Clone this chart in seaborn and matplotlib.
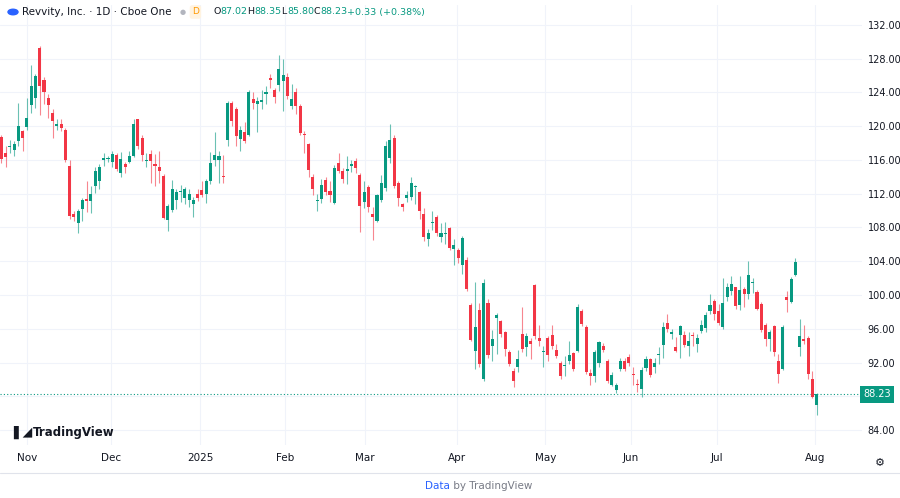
import numpy as np
import pandas as pd
import seaborn as sns
import matplotlib.pyplot as plt
from matplotlib.patches import Circle

# candle data, oldest first
opens = [118.7, 116.8, 117.5, 117.2, 118.2, 119.4, 119.9, 122.5, 123.3, 129.2,
         125.5, 123.3, 121.6, 120.0, 120.2, 119.6, 115.3, 109.6, 108.5, 110.2,
         111.4, 111.1, 112.9, 113.5, 116.0, 116.1, 115.8, 116.6, 114.5, 115.5,
         115.8, 116.5, 120.8, 118.6, 115.9, 116.7, 115.5, 115.2, 114.1, 108.9,
         110.1, 111.3, 112.2, 111.5, 111.2, 110.8, 112.0, 112.4, 112.0, 113.5,
         116.0, 116.0, 114.1, 118.4, 122.8, 122.0, 118.5, 119.3, 118.9, 123.2,
         122.6, 122.9, 123.8, 125.7, 124.3, 124.9, 125.4, 125.8, 122.4, 124.1,
         122.4, 119.0, 117.9, 114.0, 111.1, 111.4, 113.6, 112.3, 110.9, 115.6,
         114.7, 114.7, 115.3, 115.9, 114.2, 111.0, 112.8, 109.6, 108.8, 111.3,
         112.7, 116.2, 118.6, 113.3, 110.8, 111.5, 111.6, 112.8, 112.2, 109.6,
         106.6, 108.5, 109.3, 106.9, 107.2, 107.9, 105.5, 105.3, 103.6, 104.1,
         98.8, 93.4, 98.2, 90.0, 99.0, 94.0, 97.3, 96.9, 95.6, 93.3,
         91.0, 91.5, 95.4, 93.8, 94.5, 101.2, 94.9, 93.3, 94.9, 95.3,
         93.5, 91.9, 91.6, 92.2, 93.1, 93.4, 98.1, 96.2, 90.8, 90.4,
         91.9, 94.0, 92.2, 89.4, 88.7, 91.3, 92.2, 92.7, 90.6, 89.5,
         88.9, 91.4, 92.4, 91.5, 92.9, 94.1, 96.7, 95.4, 93.9, 95.3,
         95.3, 94.0, 95.2, 94.2, 95.8, 96.1, 98.1, 99.3, 98.1, 96.2,
         99.8, 100.5, 100.9, 98.8, 100.7, 100.1, 101.4, 100.4, 98.9, 96.5,
         94.8, 96.3, 92.2, 91.2, 99.8, 99.2, 102.4, 93.9, 94.8, 94.9,
         90.0, 87.02]
closes = [116.1, 116.4, 117.7, 117.9, 120.0, 118.6, 121.0, 124.8, 126.0, 124.8,
          124.0, 122.5, 120.6, 120.3, 119.8, 116.0, 109.4, 109.3, 109.9, 111.3,
          111.1, 112.0, 114.7, 115.2, 116.2, 116.2, 116.7, 114.9, 116.1, 115.2,
          116.5, 120.3, 117.6, 116.6, 116.0, 115.9, 115.3, 114.7, 109.1, 110.6,
          112.6, 112.2, 112.3, 112.5, 112.0, 111.3, 111.5, 111.9, 113.5, 115.6,
          116.6, 116.5, 114.0, 122.8, 120.6, 118.8, 119.5, 118.2, 124.0, 122.8,
          123.0, 123.1, 124.1, 125.5, 123.5, 126.8, 126.1, 123.6, 123.2, 122.4,
          119.2, 118.9, 114.8, 112.6, 111.3, 113.0, 112.2, 111.8, 115.0, 114.7,
          113.8, 114.9, 115.5, 115.0, 110.5, 112.2, 110.4, 109.3, 111.8, 113.3,
          117.6, 118.4, 112.9, 111.5, 110.4, 111.9, 113.3, 112.8, 109.9, 106.9,
          107.3, 108.6, 107.4, 107.4, 107.3, 105.6, 105.9, 104.4, 106.7, 100.7,
          94.7, 96.2, 91.8, 101.4, 92.9, 94.8, 97.6, 95.4, 93.6, 91.8,
          89.8, 92.4, 93.6, 95.2, 94.2, 95.1, 94.6, 93.4, 92.9, 94.0,
          92.8, 90.4, 91.7, 92.9, 91.2, 98.6, 96.6, 90.9, 90.4, 93.3,
          94.4, 93.5, 89.8, 90.5, 89.3, 92.2, 91.3, 91.9, 90.5, 89.3,
          91.1, 92.4, 90.5, 92.0, 92.95, 96.2, 96.0, 95.6, 93.4, 96.3,
          94.1, 94.5, 95.1, 94.9, 96.5, 97.6, 98.8, 97.8, 96.7, 99.1,
          100.9, 101.3, 98.7, 100.6, 100.1, 102.4, 101.6, 98.4, 95.9, 94.8,
          95.6, 93.3, 90.7, 96.2, 99.4, 101.9, 103.9, 95.1, 94.5, 90.7,
          87.9, 88.23]
highs = [119.0, 117.6, 118.4, 118.2, 122.7, 119.6, 123.3, 127.2, 126.2, 129.5,
         125.8, 123.8, 122.0, 120.9, 120.8, 119.8, 116.0, 110.0, 110.2, 111.5,
         113.5, 112.9, 115.2, 115.5, 116.8, 116.5, 117.0, 116.8, 116.9, 115.8,
         117.0, 120.8, 120.9, 119.0, 116.8, 117.2, 116.7, 117.0, 114.3, 110.8,
         113.6, 112.6, 113.0, 112.8, 112.5, 111.6, 112.6, 113.5, 113.8, 116.9,
         119.3, 117.0, 116.6, 123.0, 123.0, 122.3, 120.0, 120.5, 124.3, 124.0,
         123.4, 124.3, 124.7, 126.2, 124.5, 128.4, 128.0, 126.3, 125.0, 124.5,
         122.6, 119.4, 118.0, 114.3, 112.0, 113.8, 114.0, 113.5, 115.4, 116.8,
         115.0, 116.5, 116.0, 116.2, 114.4, 113.5, 113.0, 110.4, 112.0, 114.2,
         118.3, 120.3, 119.0, 113.5, 110.9, 112.3, 114.0, 113.0, 112.3, 110.3,
         107.8, 110.0, 109.5, 108.5, 108.7, 108.0, 106.6, 105.6, 107.0, 104.5,
         99.0, 101.6, 99.0, 101.9, 99.5, 95.9, 97.9, 97.1, 95.8, 93.5,
         91.4, 93.5, 98.6, 95.5, 94.9, 101.3, 96.5, 94.0, 95.2, 96.4,
         94.2, 92.2, 92.8, 94.5, 93.3, 98.9, 98.3, 96.5, 91.2, 93.5,
         94.6, 94.3, 92.4, 90.9, 89.6, 92.6, 92.5, 93.0, 91.5, 90.0,
         91.5, 92.8, 92.6, 92.6, 93.8, 96.8, 97.8, 96.0, 95.0, 96.5,
         95.8, 95.6, 95.6, 95.4, 97.0, 98.0, 100.1, 99.5, 98.9, 102.0,
         101.4, 102.3, 101.0, 102.2, 101.0, 104.0, 102.0, 100.6, 99.2, 96.7,
         95.9, 96.4, 93.0, 96.5, 100.5, 102.1, 104.4, 97.2, 96.5, 95.1,
         91.0, 88.35]
lows = [115.6, 115.2, 116.8, 116.5, 117.6, 117.0, 119.5, 121.6, 122.2, 121.3,
        122.6, 121.0, 118.6, 119.5, 119.4, 115.8, 109.0, 108.8, 107.3, 108.8,
        109.8, 109.7, 112.1, 112.5, 115.3, 115.8, 115.2, 114.7, 114.0, 114.5,
        115.6, 116.3, 117.3, 115.9, 115.2, 113.3, 112.9, 113.3, 109.0, 107.6,
        109.8, 110.2, 111.0, 110.8, 110.4, 109.3, 111.1, 111.6, 110.9, 113.2,
        115.3, 113.3, 113.3, 117.6, 120.0, 117.6, 117.0, 118.0, 118.8, 122.0,
        119.3, 122.0, 122.6, 124.5, 122.8, 124.2, 121.8, 123.2, 122.0, 121.5,
        119.0, 116.8, 114.0, 111.8, 110.0, 110.9, 111.8, 111.0, 110.8, 114.4,
        113.3, 113.1, 114.6, 114.5, 107.5, 110.3, 109.8, 106.5, 108.7, 111.0,
        112.3, 115.6, 112.7, 110.6, 109.9, 111.0, 111.2, 110.8, 109.0, 106.4,
        105.8, 107.7, 107.0, 106.3, 106.0, 105.3, 103.5, 103.8, 102.5, 100.5,
        94.5, 91.3, 91.5, 89.8, 92.6, 92.2, 93.0, 95.0, 92.8, 91.6,
        89.1, 90.9, 93.3, 92.8, 92.4, 94.8, 94.0, 91.5, 92.2, 93.6,
        92.5, 90.0, 90.4, 91.8, 91.0, 93.2, 96.3, 90.7, 89.4, 89.7,
        91.5, 93.2, 89.6, 89.2, 88.4, 91.0, 91.0, 91.6, 89.4, 88.5,
        87.9, 91.0, 90.3, 90.8, 91.8, 92.5, 95.6, 94.8, 93.2, 92.6,
        93.8, 92.8, 94.0, 93.3, 95.5, 95.6, 97.8, 97.0, 96.5, 96.0,
        99.3, 100.0, 98.4, 98.2, 98.6, 99.5, 100.3, 98.2, 95.6, 94.0,
        93.4, 92.8, 89.6, 91.1, 98.0, 99.0, 102.2, 92.8, 94.2, 90.0,
        87.8, 85.8]

month_labels = ["Nov", "Dec", "2025", "Feb", "Mar", "Apr", "May", "Jun", "Jul", "Aug"]
month_pos = [6, 25.8, 46.6, 66.5, 85.2, 106.8, 127.4, 147.5, 167.7, 190.6]
price_ticks = [84, 88, 92, 96, 100, 104, 108, 112, 116, 120, 124, 128, 132]
last_price = 88.23

df = pd.DataFrame({"open": opens, "high": highs, "low": lows, "close": closes})
df["idx"] = np.arange(len(df))
df["up"] = df["close"] >= df["open"]

GREEN = "#089981"
RED = "#f23645"
GRID = "#f0f3fa"
TXT = "#131722"

sns.set_style("white")
fig = plt.figure(figsize=(9, 4.98), dpi=100)
ax = fig.add_axes([0, 53 / 498, 862 / 900, 1 - 53 / 498 - 5 / 498])

for t in price_ticks:
    ax.axhline(t, color=GRID, lw=0.8, zorder=0)
for m in month_pos:
    ax.axvline(m, color=GRID, lw=0.8, zorder=0)

colors = np.where(df["up"], GREEN, RED)
ax.vlines(df["idx"], df["low"], df["high"], colors=colors, lw=0.8, alpha=0.6, zorder=2)
body_lo = np.minimum(df["open"], df["close"])
body_h = np.maximum(np.abs(df["close"] - df["open"]), 0.12)
ax.bar(df["idx"], body_h, bottom=body_lo, width=0.72, color=colors, lw=0, zorder=3)

ax.axhline(last_price, color=GREEN, lw=0.8, ls=(0, (1, 2)), zorder=1)

ax.set_xlim(-0.3, 201.6)
ax.set_ylim(82.24, 134.35)
ax.yaxis.tick_right()
ax.set_yticks(price_ticks)
# the 88 label sits under the last-price tag
ax.set_yticklabels(["" if t == 88 else f"{t:.2f}" for t in price_ticks])
ax.set_xticks(month_pos)
ax.set_xticklabels(month_labels)
ax.tick_params(axis="x", length=0, labelsize=7.5, colors=TXT, pad=6)
ax.tick_params(axis="y", length=0, labelsize=7, colors=TXT, pad=4)
for s in ax.spines.values():
    s.set_visible(False)

# last price tag
ax.text(877 / 862, last_price, f"{last_price:.2f}", transform=ax.get_yaxis_transform(),
        ha="center", va="center", fontsize=7, color="white", zorder=5,
        bbox=dict(boxstyle="square,pad=0.35", fc=GREEN, ec="none"))

# header
y_head = 1 - 12 / 498
fig.patches.append(Circle((13 / 900, y_head), 5 / 900, transform=fig.transFigure,
                          color="#2962ff"))
fig.text(22 / 900, y_head, "Revvity, Inc. · 1D · Cboe One", fontsize=7.5,
         color=TXT, va="center")
fig.text(180 / 900, y_head, "●", fontsize=5, color="#b2b5be", va="center")
fig.text(192 / 900, y_head, "D", fontsize=6.5, color="#ff9800", va="center",
         bbox=dict(boxstyle="round,pad=0.25", fc="#fff3e0", ec="none"))
head_items = [("O", "87.02", 213), ("H", "88.35", 247), ("L", "85.80", 281),
              ("C", "88.23", 313), ("", "+0.33 (+0.38%)", 347)]
for lab, val, hx in head_items:
    if lab:
        fig.text(hx / 900, y_head, lab, fontsize=6.8, color=TXT, va="center")
        hx += 7.5 if lab != "L" else 6
    fig.text(hx / 900, y_head, val, fontsize=6.8, color=GREEN, va="center")

# logo and footer
fig.text(13 / 900, 1 - 432 / 498, "\u258c\u25e2", fontsize=9, color=TXT, va="center")
fig.text(33 / 900, 1 - 432 / 498, "TradingView", fontsize=8.5, color=TXT, va="center",
         fontweight="bold")
fig.text(0.5, 1 - 486 / 498, "Data", fontsize=7.5, color="#2962ff", ha="right", va="center")
fig.text(0.5, 1 - 486 / 498, " by TradingView", fontsize=7.5, color="#787b86", ha="left",
         va="center")
fig.lines.append(plt.Line2D([0, 1], [1 - 473 / 498] * 2, transform=fig.transFigure,
                            color="#e0e3eb", lw=0.8))
fig.text(880 / 900, 1 - 463 / 498, "⚙", fontsize=8, color=TXT, ha="center", va="center")

fig.savefig("out.png", dpi=100)
